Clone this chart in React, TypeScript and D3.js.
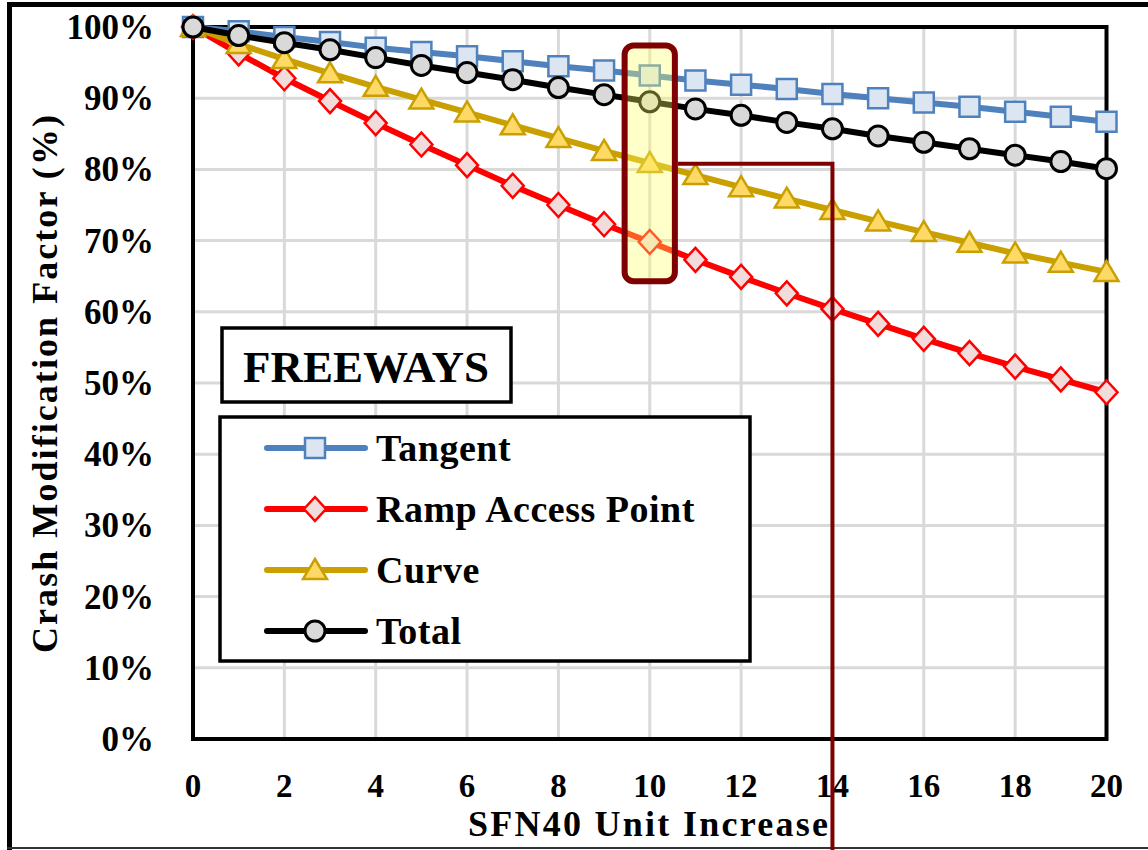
import { useEffect, useRef } from 'react'
import * as d3 from 'd3'

// SFN40 unit increase (x) and CMF values in percent
const X_VALUES = [0, 1, 2, 3, 4, 5, 6, 7, 8, 9, 10, 11, 12, 13, 14, 15, 16, 17, 18, 19, 20]
const TANGENT = [100, 99.4, 98.6, 97.9, 97.1, 96.5, 95.9, 95.2, 94.5, 93.9, 93.2, 92.5, 91.9, 91.3, 90.6, 90.0, 89.4, 88.8, 88.1, 87.4, 86.7]
const RAMP = [100, 96.3, 92.8, 89.6, 86.5, 83.5, 80.6, 77.7, 75.0, 72.3, 69.8, 67.3, 64.9, 62.6, 60.4, 58.3, 56.2, 54.2, 52.3, 50.5, 48.7]
const CURVE = [100, 97.6, 95.5, 93.5, 91.6, 89.8, 88.0, 86.2, 84.4, 82.6, 80.9, 79.2, 77.5, 75.9, 74.3, 72.7, 71.2, 69.7, 68.2, 66.9, 65.6]
const TOTAL = [100, 98.8, 97.8, 96.8, 95.7, 94.6, 93.6, 92.6, 91.5, 90.5, 89.5, 88.5, 87.6, 86.6, 85.7, 84.7, 83.8, 82.9, 82.0, 81.1, 80.1]

const SERIES_NAMES = ['Tangent', 'Ramp Access Point', 'Curve', 'Total']
const Y_TICKS = [0, 10, 20, 30, 40, 50, 60, 70, 80, 90, 100]
const X_TICKS = [0, 2, 4, 6, 8, 10, 12, 14, 16, 18, 20]

const W = 1148
const H = 850
const FONT = "'Liberation Serif', 'Times New Roman', serif"

type Style = { line: string; fill: string; stroke: string; shape: string }

const STYLES: Style[] = [
  { line: '#4f81bd', fill: '#dce6f2', stroke: '#4f81bd', shape: 'square' },
  { line: '#ff0000', fill: '#f2dcdb', stroke: '#ff0000', shape: 'diamond' },
  { line: '#c9a000', fill: '#ffd966', stroke: '#c9a000', shape: 'triangle' },
  { line: '#000000', fill: '#d9d9d9', stroke: '#000000', shape: 'circle' },
]

// marker outlines centred on 0,0
function markerPath(shape: string): string {
  if (shape === 'square') return 'M-10,-10H10V10H-10Z'
  if (shape === 'diamond') return 'M0,-12L11,0L0,12L-11,0Z'
  return 'M0,-11L12,9H-12Z'
}

export default function App() {
  const svgRef = useRef<SVGSVGElement | null>(null)

  useEffect(() => {
    if (!svgRef.current) return
    const svg = d3.select(svgRef.current)
    svg.selectAll('*').remove()

    const x = d3.scaleLinear().domain([0, 20]).range([193, 1106.5])
    const y = d3.scaleLinear().domain([0, 100]).range([739, 27])

    svg.append('rect').attr('width', W).attr('height', H).attr('fill', '#fff')

    // picture border
    svg.append('line').attr('x1', 7).attr('x2', W).attr('y1', 4.5).attr('y2', 4.5)
      .attr('stroke', '#000').attr('stroke-width', 5)
    svg.append('line').attr('x1', 9.5).attr('x2', 9.5).attr('y1', 2).attr('y2', H)
      .attr('stroke', '#000').attr('stroke-width', 5)
    svg.append('line').attr('x1', 7).attr('x2', W).attr('y1', 848).attr('y2', 848)
      .attr('stroke', '#333').attr('stroke-width', 2)

    // gridlines
    const grid = svg.append('g').attr('stroke', '#d9d9d9').attr('stroke-width', 3)
    X_TICKS.slice(1, -1).forEach(t => {
      grid.append('line').attr('x1', x(t)).attr('x2', x(t)).attr('y1', y(0)).attr('y2', y(100))
    })
    Y_TICKS.slice(1, -1).forEach(t => {
      grid.append('line').attr('x1', x(0)).attr('x2', x(20)).attr('y1', y(t)).attr('y2', y(t))
    })

    // plot frame
    svg.append('rect')
      .attr('x', x(0)).attr('y', y(100))
      .attr('width', x(20) - x(0)).attr('height', y(0) - y(100))
      .attr('fill', 'none').attr('stroke', '#000').attr('stroke-width', 4)

    // tick labels
    const text = svg.append('g')
      .attr('font-family', FONT).attr('font-weight', 'bold').attr('fill', '#000')

    Y_TICKS.forEach(t => {
      text.append('text')
        .attr('x', 154).attr('y', y(t) + 12)
        .attr('text-anchor', 'end').attr('font-size', 35)
        .text(`${t}%`)
    })
    X_TICKS.forEach(t => {
      text.append('text')
        .attr('x', x(t)).attr('y', 797)
        .attr('text-anchor', 'middle').attr('font-size', 33)
        .text(t)
    })

    // axis titles
    text.append('text')
      .attr('transform', `translate(57,${(653 + 115) / 2}) rotate(-90)`)
      .attr('text-anchor', 'middle').attr('font-size', 36)
      .attr('textLength', 538).attr('lengthAdjust', 'spacing')
      .text('Crash Modification Factor (%)')
    text.append('text')
      .attr('x', 648).attr('y', 836)
      .attr('text-anchor', 'middle').attr('font-size', 36)
      .attr('textLength', 360).attr('lengthAdjust', 'spacing')
      .text('SFN40 Unit Increase')

    // series
    const seriesValues = [TANGENT, RAMP, CURVE, TOTAL]
    const line = d3.line<number>().x((_, i) => x(X_VALUES[i])).y(d => y(d))

    seriesValues.forEach((values, si) => {
      const st = STYLES[si]
      svg.append('path')
        .datum(values)
        .attr('fill', 'none')
        .attr('stroke', st.line)
        .attr('stroke-width', 6)
        .attr('stroke-linejoin', 'round')
        .attr('d', line)

      values.forEach((v, i) => {
        drawMarker(svg, st, x(X_VALUES[i]), y(v))
      })
    })

    // FREEWAYS label
    svg.append('rect').attr('x', 222).attr('y', 328).attr('width', 289).attr('height', 74)
      .attr('fill', '#fff').attr('stroke', '#000').attr('stroke-width', 3.5)
    svg.append('text').attr('x', 366).attr('y', 382)
      .attr('text-anchor', 'middle').attr('font-family', FONT).attr('font-weight', 'bold')
      .attr('font-size', 45).text('FREEWAYS')

    // legend
    svg.append('rect').attr('x', 220).attr('y', 417).attr('width', 530).attr('height', 244)
      .attr('fill', '#fff').attr('stroke', '#000').attr('stroke-width', 3.5)
    SERIES_NAMES.forEach((name, i) => {
      const st = STYLES[i]
      const ly = 448 + i * 61
      svg.append('line').attr('x1', 267).attr('x2', 365).attr('y1', ly).attr('y2', ly)
        .attr('stroke', st.line).attr('stroke-width', 6).attr('stroke-linecap', 'round')
      drawMarker(svg, st, 315, ly)
      svg.append('text').attr('x', 376).attr('y', ly + 13)
        .attr('font-family', FONT).attr('font-weight', 'bold').attr('font-size', 38)
        .attr('letter-spacing', 0.5)
        .text(name)
    })

    // highlight around SFN40 = 10 and leader line to 14
    svg.append('rect')
      .attr('x', x(9.45)).attr('y', y(97.4))
      .attr('width', x(10.55) - x(9.45)).attr('height', y(64.3) - y(97.4))
      .attr('rx', 9)
      .attr('fill', '#ffff66').attr('fill-opacity', 0.35)
      .attr('stroke', '#7f0000').attr('stroke-width', 6)
    svg.append('path')
      .attr('d', `M${x(10.55) + 3},${y(80.8)}H${x(14)}V${H}`)
      .attr('fill', 'none').attr('stroke', '#7f0000').attr('stroke-width', 4)
  }, [])

  return (
    <>
      <style>{'body{margin:0}'}</style>
      <svg ref={svgRef} width={W} height={H} style={{ display: 'block' }} />
    </>
  )
}

function drawMarker(svg: d3.Selection<SVGSVGElement, unknown, null, undefined>, st: Style, cx: number, cy: number) {
  if (st.shape === 'circle') {
    svg.append('circle').attr('cx', cx).attr('cy', cy).attr('r', 10)
      .attr('fill', st.fill).attr('stroke', st.stroke).attr('stroke-width', 3)
    return
  }
  svg.append('path')
    .attr('d', markerPath(st.shape))
    .attr('transform', `translate(${cx},${cy})`)
    .attr('fill', st.fill).attr('stroke', st.stroke).attr('stroke-width', 2.5)
    .attr('stroke-linejoin', 'miter')
}
